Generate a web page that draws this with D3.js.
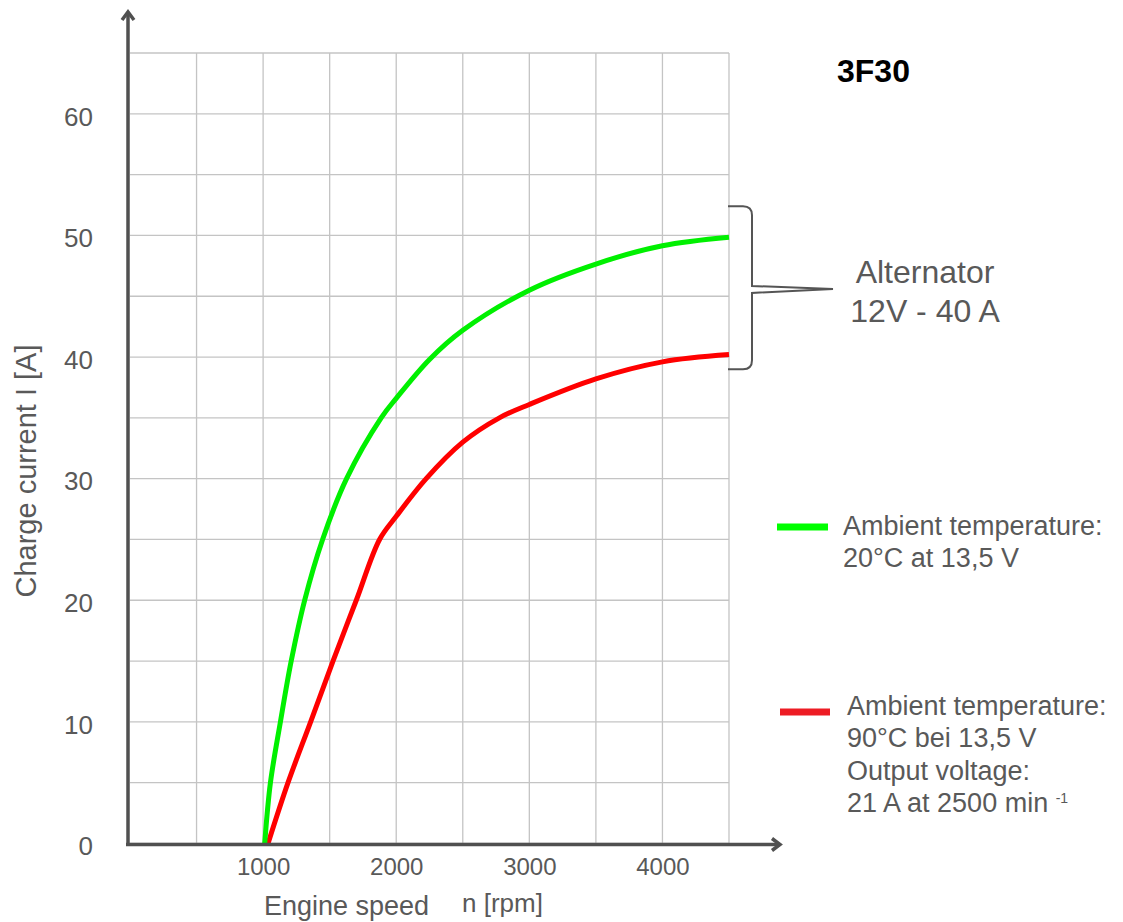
<!DOCTYPE html>
<html>
<head>
<meta charset="utf-8">
<script src="https://cdn.jsdelivr.net/npm/d3@7"></script>
<style>
  body { margin: 0; background: #fff; }
  text { font-family: "Liberation Sans", Arial, sans-serif; fill: #595959; }
</style>
</head>
<body>
<div id="chart"></div>
<script>
const w = 1123
const h = 922

// curve values (rpm, A)
const greenRpm = [1012, 1055, 1130, 1211, 1312, 1447, 1627, 1887, 2000, 2250, 2500, 3000, 3500, 4000, 4500]
const greenAmp = [0, 5, 10, 15, 20, 25, 30, 35, 36.6, 39.8, 42.2, 45.5, 47.65, 49.15, 49.85]
const redRpm = [1037, 1187, 1357, 1525, 1700, 1875, 2000, 2225, 2500, 2775, 3000, 3500, 4000, 4500]
const redAmp = [0, 5, 10, 15, 20, 25, 26.9, 30, 33, 35, 36.1, 38.2, 39.6, 40.2]

const xTicks = [1000, 2000, 3000, 4000]
const yTicks = [0, 10, 20, 30, 40, 50, 60]

const greenLegend = ['Ambient temperature:', '20°C at 13,5 V']
const redLegend = ['Ambient temperature:', '90°C bei 13,5 V', 'Output voltage:', '21 A at 2500 min ']
const bracketText = ['Alternator', '12V - 40 A']

const svg = d3.select('#chart')
    .append('svg')
    .attr('width', w)
    .attr('height', h)

const x = d3.scaleLinear().domain([0, 4500]).range([130, 729])
const y = d3.scaleLinear().domain([0, 65]).range([843.5, 53])

// grid
svg.append('g')
    .selectAll('line')
    .data(d3.range(500, 4501, 500))
    .enter()
    .append('line')
    .attr('x1', d => x(d)).attr('x2', d => x(d))
    .attr('y1', y(65)).attr('y2', y(0))
    .attr('stroke', '#c4c4c4').attr('stroke-width', 1.3)

svg.append('g')
    .selectAll('line')
    .data(d3.range(0, 66, 5))
    .enter()
    .append('line')
    .attr('x1', x(0)).attr('x2', x(4500))
    .attr('y1', d => y(d)).attr('y2', d => y(d))
    .attr('stroke', '#c4c4c4').attr('stroke-width', 1.3)

// tick labels
const yAxis = d3.axisLeft(y).tickValues(yTicks).tickSize(0).tickPadding(35)
const gy = svg.append('g').attr('transform', 'translate(128, 3)').call(yAxis)
gy.select('.domain').remove()
gy.selectAll('text').style('font-size', '26px').attr('fill', '#595959')

const xAxis = d3.axisBottom(x).tickValues(xTicks).tickFormat(d3.format('d')).tickSize(0).tickPadding(13)
const gx = svg.append('g').attr('transform', 'translate(0, 845)').call(xAxis)
gx.select('.domain').remove()
gx.selectAll('text').style('font-size', '24px').attr('fill', '#595959')

// curves
const line = d3.line()
    .x(d => x(d[0]))
    .y(d => y(d[1]))
    .curve(d3.curveCatmullRom.alpha(0.5))

svg.append('path')
    .datum(redRpm.map((r, i) => [r, redAmp[i]]))
    .attr('d', line)
    .attr('fill', 'none')
    .attr('stroke', '#ff0000')
    .attr('stroke-width', 5)

svg.append('path')
    .datum(greenRpm.map((r, i) => [r, greenAmp[i]]))
    .attr('d', line)
    .attr('fill', 'none')
    .attr('stroke', '#00f000')
    .attr('stroke-width', 5)

// axes with open arrows
const axisColor = '#505050'
svg.append('line')
    .attr('x1', 128).attr('x2', 128).attr('y1', 846).attr('y2', 13)
    .attr('stroke', axisColor).attr('stroke-width', 3.5)
svg.append('path')
    .attr('d', 'M122,20 L128,12 L134,20')
    .attr('fill', 'none').attr('stroke', axisColor).attr('stroke-width', 3.5)

svg.append('line')
    .attr('x1', 126).attr('x2', 779).attr('y1', 844.5).attr('y2', 844.5)
    .attr('stroke', axisColor).attr('stroke-width', 3.5)
svg.append('path')
    .attr('d', 'M772,838.5 L780,844.5 L772,850.5')
    .attr('fill', 'none').attr('stroke', axisColor).attr('stroke-width', 3.5)

// axis titles
svg.append('text')
    .attr('x', 264).attr('y', 915)
    .style('font-size', '27px')
    .text('Engine speed')
svg.append('text')
    .attr('x', 462).attr('y', 912)
    .style('font-size', '26px')
    .text('n [rpm]')
svg.append('text')
    .attr('transform', 'translate(36, 471) rotate(-90)')
    .attr('text-anchor', 'middle')
    .style('font-size', '29px')
    .text('Charge current I [A]')

// title
svg.append('text')
    .attr('x', 837).attr('y', 82)
    .style('font-size', '32px')
    .style('font-weight', 'bold')
    .style('fill', '#000')
    .text('3F30')

// bracket
const bTop = y(52.4), bBot = y(39), bTip = y(45.6)
svg.append('path')
    .attr('d', `M728,${bTop} L743,${bTop} Q752,${bTop} 752,${bTop + 9} L752,${bTip - 3} L833,${bTip} L752,${bTip + 4} L752,${bBot - 9} Q752,${bBot} 743,${bBot} L728,${bBot}`)
    .attr('fill', 'none')
    .attr('stroke', '#555')
    .attr('stroke-width', 2)

svg.append('g')
    .selectAll('text')
    .data(bracketText)
    .enter()
    .append('text')
    .attr('x', 925)
    .attr('y', (d, i) => 283 + i * 39)
    .attr('text-anchor', 'middle')
    .style('font-size', '32px')
    .text(d => d)

// legend
svg.append('line')
    .attr('x1', 777).attr('x2', 828).attr('y1', 527).attr('y2', 527)
    .attr('stroke', '#00ff00').attr('stroke-width', 7)
svg.append('g')
    .selectAll('text')
    .data(greenLegend)
    .enter()
    .append('text')
    .attr('x', 843)
    .attr('y', (d, i) => 535 + i * 32)
    .style('font-size', '27px')
    .text(d => d)

svg.append('line')
    .attr('x1', 780).attr('x2', 830).attr('y1', 712).attr('y2', 712)
    .attr('stroke', '#ed1c24').attr('stroke-width', 7)
const redText = svg.append('g')
    .selectAll('text')
    .data(redLegend)
    .enter()
    .append('text')
    .attr('x', 847)
    .attr('y', (d, i) => 715 + i * 32.3)
    .style('font-size', '27px')
    .text(d => d)

redText.filter((d, i) => i === redLegend.length - 1)
    .append('tspan')
    .attr('dy', -9)
    .style('font-size', '14px')
    .text('-1')
</script>
</body>
</html>
